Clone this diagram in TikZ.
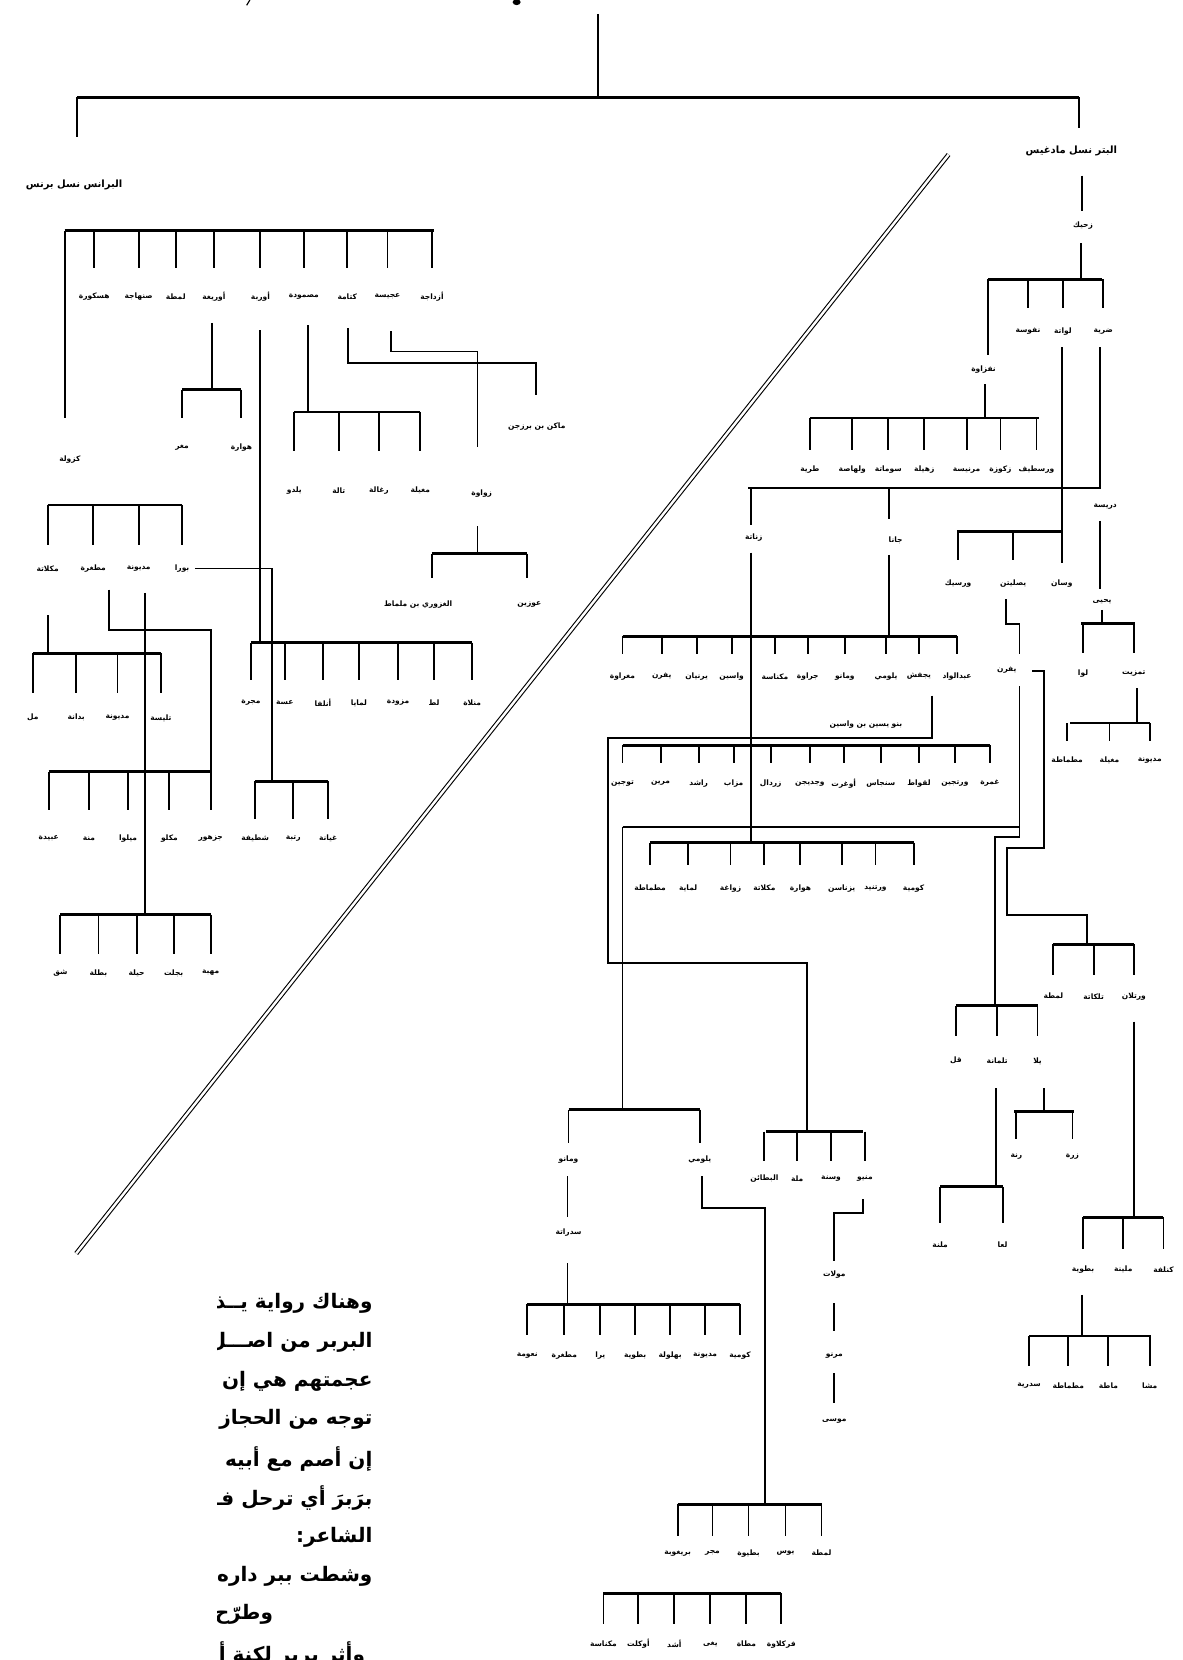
\documentclass[tikz,border=0pt]{standalone}
\usepackage{fontspec}
\newfontfamily\arf[Script=Arabic]{DejaVu Sans}
\TeXXeTstate=1
\tikzset{
  tl/.style={line width=1.9pt},
  barl/.style={line width=2.6pt},
  lbl/.style={font=\arf\bfseries\fontsize{7.5}{8}\selectfont, inner sep=0pt},
  hdr/.style={font=\arf\bfseries\fontsize{10}{11}\selectfont, inner sep=0pt},
  para/.style={font=\arf\bfseries\fontsize{20}{22}\selectfont, inner sep=0pt, anchor=east},
  dbl/.style={double, double distance=2.4pt, line width=1.1pt},
}
\newcommand{\famb}[7]{%
  \coordinate (#1L) at (#3,#2);
  \coordinate (#1R) at (#4,#2);
  \draw[barl] (#1L) -- (#1R);
  \foreach \xx/\lt [count=\ci] in {#7} {%
    \coordinate (#1t\ci) at (\xx,#2);
    \coordinate (#1b\ci) at (\xx,#5);
    \draw[tl] (#1t\ci) -- (#1b\ci);
    \node[lbl] (#1\ci) at (\xx,#6) {\lt};
  }%
}
\begin{document}
\begin{tikzpicture}[x=1.05909pt,y=-1.05909pt]
\fill[white] (0,0) rectangle (1117,1568);
\useasboundingbox (0,0) rectangle (1117,1568);

% remnants of the cut title
\fill (488,2) ellipse [x radius=4pt, y radius=3pt];
\draw[line width=1.2pt] (236,0) -- (233,5);

% top split
\coordinate (root) at (565,13);
\coordinate (tL) at (73,92);
\coordinate (tR) at (1019,92);
\coordinate (tLb) at (73,129);
\coordinate (tRb) at (1019,121);
\draw[tl] (root) -- (root |- tL);
\draw[barl] (tL) -- (tR);
\draw[tl] (tL) -- (tLb);
\draw[tl] (tR) -- (tRb);
\node[hdr] (L0) at (70,175) {\beginR البرانس نسل برنس\endR};
\node[hdr] (R0) at (1012,143) {\beginR البتر نسل مادغيس\endR};

% diagonal double rule
\coordinate (dgA) at (896,146);
\coordinate (dgB) at (72,1184);
\draw[dbl] (dgA) -- (dgB);

% ================= RIGHT TREE =================
\node[lbl] (R1) at (1023,213) {\beginR زحيك\endR};
\draw[tl] (1022,166) -- (1022,199);
\draw[tl] (1021,230) -- (1021,264);
\famb{RA}{264}{933}{1041}{291}{313}{971/{\beginR نفوسة\endR}, 1004/{\beginR لواتة\endR}, 1042/{\beginR ضرية\endR}}
\draw[tl] (933,264) -- (933,335);
\node[lbl] (RA0) at (929,349) {\beginR نفزاوة\endR};
\draw[tl] (930,363) -- (930,395);
\famb{RB}{395}{765}{981}{425}{444}{765/{\beginR طرية\endR}, 805/{\beginR ولهاصة\endR}, 839/{\beginR سوماتة\endR}, 873/{\beginR زهيلة\endR}, 913/{\beginR مرنيسة\endR}, 945/{\beginR زكوزة\endR}, 979/{\beginR ورسطيف\endR}}

\draw[tl] (1003,328) -- (1003,532);
\draw[tl] (1039,328) -- (1039,461) -- (1003,461);
\draw[barl] (707,461) -- (1003,461);
\draw[tl] (709,461) -- (709,496);
\node[lbl] (RC1) at (712,508) {\beginR زناتة\endR};
\draw[tl] (709,522) -- (709,796);
\draw[tl] (840,461) -- (840,490);
\node[lbl] (RC2) at (846,510) {\beginR جانا\endR};
\draw[tl] (840,524) -- (840,601);

\node[lbl] (RDa) at (1044,478) {\beginR دريسة\endR};
\draw[tl] (1039,492) -- (1039,556);
\node[lbl] (RDb) at (1041,568) {\beginR يحيى\endR};
\draw[tl] (1041,576) -- (1041,589);
\famb{RE}{589}{1021}{1072}{617}{636}{1023/{\beginR لوا\endR}, 1071/{\beginR تمزيت\endR}}
\draw[tl] (1074,650) -- (1074,683);
\famb{RF}{683}{1011}{1086}{700}{718}{1008/{\beginR مطماطة\endR}, 1048/{\beginR مغيلة\endR}, 1086/{\beginR مديونة\endR}}

\famb{RD}{502}{904}{1002}{529}{551}{905/{\beginR ورسيك\endR}, 957/{\beginR يصليتن\endR}, 1003/{\beginR وسان\endR}}
\draw[tl] (950,566) -- (950,589) -- (963,589) -- (963,618);
\node[lbl] (RX) at (951,633) {\beginR يفرن\endR};
\draw[tl] (975,634) -- (986,634) -- (986,801) -- (951,801) -- (951,864) -- (1027,864) -- (1027,892);
\draw[tl] (963,648) -- (963,791) -- (940,791) -- (940,950);
\draw[tl] (588,781) -- (963,781);
\draw[tl] (588,781) -- (588,1048);

\famb{RG}{601}{588}{904}{618}{639}{588/{\beginR مغراوة\endR}, 625/{\beginR يفرن\endR}, 658/{\beginR يرنيان\endR}, 691/{\beginR واسين\endR}, 732/{\beginR مكناسة\endR}, 763/{\beginR جراوة\endR}, 798/{\beginR ومانو\endR}, 837/{\beginR يلومي\endR}, 868/{\beginR يجفش\endR}, 904/{\beginR عبدالواد\endR}}
\draw[tl] (880,657) -- (880,697) -- (574,697) -- (574,910) -- (762,910) -- (762,1069);
\node[lbl] (Rann) at (818,684) {\beginR بنو يسين بن واسين\endR};
\famb{RH}{704}{588}{935}{721}{740}{588/{\beginR توجين\endR}, 624/{\beginR مرين\endR}, 660/{\beginR راشد\endR}, 693/{\beginR مزاب\endR}, 728/{\beginR زردال\endR}, 765/{\beginR وجديجن\endR}, 797/{\beginR أوغرت\endR}, 832/{\beginR سنجاس\endR}, 868/{\beginR لقواط\endR}, 902/{\beginR ورتجين\endR}, 935/{\beginR غمرة\endR}}
\famb{RI}{796}{614}{863}{817}{839}{614/{\beginR مطماطة\endR}, 650/{\beginR لماية\endR}, 690/{\beginR زواغة\endR}, 722/{\beginR مكلاتة\endR}, 756/{\beginR هوارة\endR}, 795/{\beginR يزناسن\endR}, 827/{\beginR ورتنيد\endR}, 863/{\beginR كومية\endR}}

\famb{RN}{1048}{537}{661}{1080}{1095}{537/{\beginR ومانو\endR}, 661/{\beginR يلومي\endR}}
\draw[tl] (536,1111) -- (536,1150);
\node[lbl] (RNa) at (537,1164) {\beginR سدراتة\endR};
\draw[tl] (536,1193) -- (536,1232);
\famb{RU}{1232}{498}{699}{1261}{1280}{498/{\beginR نعومة\endR}, 533/{\beginR مطغرة\endR}, 567/{\beginR يرا\endR}, 600/{\beginR بطوية\endR}, 633/{\beginR بهلولة\endR}, 666/{\beginR مديونة\endR}, 699/{\beginR كومية\endR}}
\draw[tl] (663,1111) -- (663,1141) -- (723,1141) -- (723,1421);
\famb{RS}{1421}{640}{776}{1451}{1467}{640/{\beginR بريغوبة\endR}, 673/{\beginR مجر\endR}, 707/{\beginR بطيوة\endR}, 742/{\beginR يوس\endR}, 776/{\beginR لمطة\endR}}
\famb{RT}{1505}{570}{738}{1534}{1553}{570/{\beginR مكناسة\endR}, 603/{\beginR أوكلت\endR}, 637/{\beginR أشد\endR}, 671/{\beginR يغى\endR}, 705/{\beginR مطاة\endR}, 738/{\beginR فركلاوة\endR}}

\famb{RM}{1069}{724}{815}{1097}{1113}{722/{\beginR البطائن\endR}, 753/{\beginR ملة\endR}, 785/{\beginR وسنة\endR}, 817/{\beginR منيو\endR}}
\draw[tl] (815,1133) -- (815,1146) -- (788,1146) -- (788,1191);
\node[lbl] (RMa) at (788,1204) {\beginR مولات\endR};
\draw[tl] (788,1231) -- (788,1257);
\node[lbl] (RMb) at (788,1280) {\beginR مرنو\endR};
\draw[tl] (788,1297) -- (788,1325);
\node[lbl] (RMc) at (788,1342) {\beginR موسى\endR};

\famb{RK}{950}{903}{980}{979}{1002}{903/{\beginR قل\endR}, 942/{\beginR تلمانة\endR}, 980/{\beginR يلا\endR}}
\draw[tl] (941,1028) -- (941,1121);
\famb{RO}{1121}{888}{947}{1155}{1176}{888/{\beginR ملنة\endR}, 947/{\beginR لعا\endR}}
\draw[tl] (986,1028) -- (986,1050);
\famb{RP}{1050}{958}{1014}{1076}{1092}{960/{\beginR رنة\endR}, 1013/{\beginR زرة\endR}}
\famb{RJ}{892}{995}{1071}{921}{941}{995/{\beginR لمطة\endR}, 1033/{\beginR تلكاتة\endR}, 1071/{\beginR ورتلان\endR}}
\draw[tl] (1071,965) -- (1071,1150);
\famb{RQ}{1150}{1023}{1099}{1180}{1199}{1023/{\beginR بطوية\endR}, 1061/{\beginR ملينة\endR}, 1099/{\beginR كنلفة\endR}}
\draw[tl] (1022,1223) -- (1022,1262);
\famb{RR}{1262}{972}{1087}{1290}{1309}{972/{\beginR سدرية\endR}, 1009/{\beginR مطماطة\endR}, 1047/{\beginR ماطة\endR}, 1086/{\beginR مشا\endR}}

% ================= LEFT TREE =================
\famb{LA}{218}{61}{410}{253}{280}{89/{\beginR هسكورة\endR}, 131/{\beginR صنهاجة\endR}, 166/{\beginR لمطة\endR}, 202/{\beginR أوريغة\endR}, 246/{\beginR أوربة\endR}, 287/{\beginR مصمودة\endR}, 328/{\beginR كتامة\endR}, 366/{\beginR عجيسة\endR}, 408/{\beginR أزداجة\endR}}
\draw[tl] (61,218) -- (61,395);
\node[lbl] (LA0) at (66,434) {\beginR كزولة\endR};
\draw[tl] (200,305) -- (200,368);
\famb{LB}{368}{172}{228}{395}{423}{172/{\beginR مغر\endR}, 228/{\beginR هوارة\endR}}
\draw[tl] (246,312) -- (246,607);
\draw[tl] (291,307) -- (291,389);
\famb{LC}{389}{278}{397}{426}{463}{278/{\beginR يلدو\endR}, 320/{\beginR تالة\endR}, 358/{\beginR رغالة\endR}, 397/{\beginR مغيلة\endR}}
\draw[tl] (329,310) -- (329,343) -- (506,343) -- (506,373);
\node[lbl] (LCa) at (507,403) {\beginR ماكن بن برزجن\endR};
\draw[tl] (369,313) -- (369,332) -- (451,332) -- (451,422);
\node[lbl] (LCb) at (455,466) {\beginR زواوة\endR};
\draw[tl] (451,497) -- (451,523);
\draw[barl] (408,523) -- (498,523);
\draw[tl] (408,523) -- (408,546);
\draw[tl] (498,523) -- (498,546);
\node[lbl] (LD1) at (395,571) {\beginR الغزوري بن ملماط\endR};
\node[lbl] (LD2) at (500,571) {\beginR عوزين\endR};

\famb{LF}{477}{45}{172}{515}{537}{45/{\beginR مكلاتة\endR}, 88/{\beginR مطغرة\endR}, 131/{\beginR مديونة\endR}, 172/{\beginR بورا\endR}}
\draw[tl] (184,537) -- (257,537) -- (257,738);
\famb{LE}{607}{237}{446}{642}{664}{237/{\beginR مجرة\endR}, 269/{\beginR عسة\endR}, 305/{\beginR أنلفا\endR}, 339/{\beginR لمايا\endR}, 376/{\beginR مزودة\endR}, 410/{\beginR لط\endR}, 446/{\beginR منلاة\endR}}
\famb{LG}{738}{241}{310}{774}{792}{241/{\beginR شطيفة\endR}, 277/{\beginR رتبة\endR}, 310/{\beginR غيانة\endR}}
\draw[tl] (45,581) -- (45,617);
\famb{LI}{617}{31}{152}{655}{678}{31/{\beginR مل\endR}, 72/{\beginR بدانة\endR}, 111/{\beginR مديونة\endR}, 152/{\beginR تليسة\endR}}
\draw[tl] (103,557) -- (103,595) -- (199,595) -- (199,729);
\draw[tl] (137,560) -- (137,864);
\famb{LH}{729}{46}{199}{765}{792}{46/{\beginR عبيدة\endR}, 84/{\beginR منة\endR}, 121/{\beginR ميلوا\endR}, 160/{\beginR مكلو\endR}, 199/{\beginR جزهور\endR}}
\famb{LJ}{864}{57}{199}{901}{919}{57/{\beginR شق\endR}, 93/{\beginR بطلة\endR}, 129/{\beginR حيلة\endR}, 164/{\beginR بجلت\endR}, 199/{\beginR مهبة\endR}}

% ================= TEXT BLOCK =================
\begin{scope}
\clip (205,1190) rectangle (420,1568);
\node[para] (p1) at (352,1231) {\beginR وهناك رواية يــذكرها ابــن حــ\endR};
\node[para] (p2) at (352,1268) {\beginR البربر من اصـــل عربـــي وإن ســ\endR};
\node[para] (p3) at (352,1305) {\beginR عجمتهم هي إن جدهم برّ بــن قــ\endR};
\node[para] (p4) at (352,1341) {\beginR توجه من الحجاز إلى بلاد المغر\endR};
\node[para] (p5) at (352,1378) {\beginR إن أصم مع أبيه وأخوانة فقال النـ\endR};
\node[para] (p6) at (352,1415) {\beginR برَبرَ أي ترحل فــي البــراري، يـ\endR};
\node[para] (p7) at (352,1452) {\beginR الشاعر:\endR};
\node[para] (p8) at (352,1489) {\beginR وشطت ببر داره عن بلادنا\endR};
\node[para] (p9) at (258,1525) {\beginR وطرّح برّ نفسه حيث يـ\endR};
\node[para] (p10) at (345,1562) {\beginR وأثر بربر لكنة أعجمية\endR};
\end{scope}
\end{tikzpicture}
\end{document}
